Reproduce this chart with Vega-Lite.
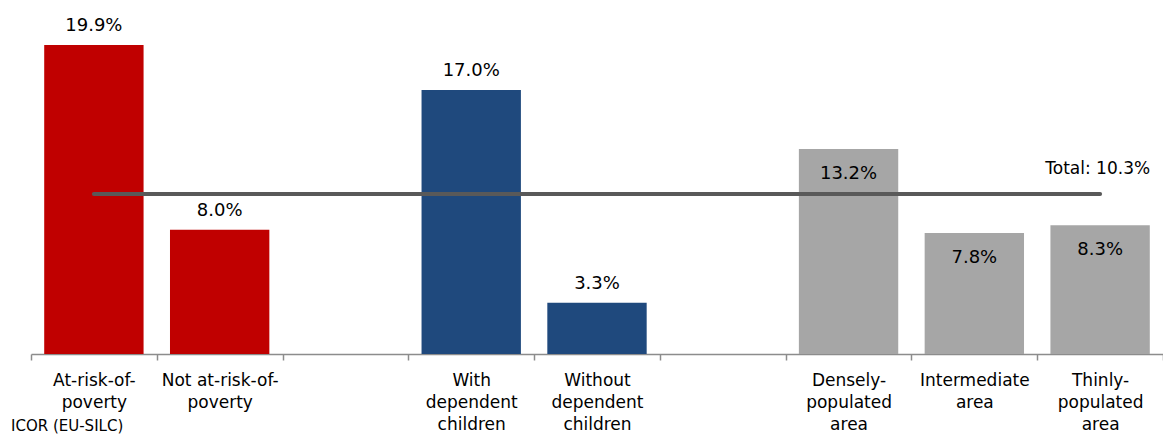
{
  "$schema": "https://vega.github.io/schema/vega-lite/v6.json",
  "autosize": "none",
  "width": 1132,
  "height": 354,
  "padding": {"left": 31, "top": 0, "right": 0, "bottom": 81},
  "background": "white",
  "config": {
    "view": {"stroke": null},
    "font": "DejaVu Sans",
    "text": {"font": "DejaVu Sans"}
  },
  "title": {
    "text": "ICOR (EU-SILC)",
    "orient": "bottom",
    "anchor": "start",
    "frame": "group",
    "font": "DejaVu Sans",
    "fontSize": 15,
    "fontWeight": "normal",
    "color": "#000000",
    "dx": -20,
    "offset": -13
  },
  "datasets": {
    "bars": [
      {"cat": "At-risk-of-poverty", "group": "poverty", "value": 19.9},
      {"cat": "Not at-risk-of-poverty", "group": "poverty", "value": 8.0},
      {"cat": "With dependent children", "group": "household", "value": 17.0},
      {"cat": "Without dependent children", "group": "household", "value": 3.3},
      {"cat": "Densely-populated area", "group": "urbanisation", "value": 13.2},
      {"cat": "Intermediate area", "group": "urbanisation", "value": 7.8},
      {"cat": "Thinly-populated area", "group": "urbanisation", "value": 8.3}
    ],
    "total": [
      {"cat": "At-risk-of-poverty", "value": 10.3, "label": ""},
      {"cat": "Thinly-populated area", "value": 10.3, "label": "Total: 10.3%"}
    ]
  },
  "encoding": {
    "x": {
      "field": "cat",
      "type": "nominal",
      "sort": null,
      "scale": {
        "domain": [
          "At-risk-of-poverty",
          "Not at-risk-of-poverty",
          "gap1",
          "With dependent children",
          "Without dependent children",
          "gap2",
          "Densely-populated area",
          "Intermediate area",
          "Thinly-populated area"
        ],
        "paddingInner": 0,
        "paddingOuter": 0
      },
      "axis": {
        "title": null,
        "labelAngle": 0,
        "tickBand": "extent",
        "domainColor": "#8c8c8c",
        "domainWidth": 1.5,
        "tickColor": "#8c8c8c",
        "tickWidth": 1.5,
        "tickSize": 6,
        "labelFont": "DejaVu Sans",
        "labelFontSize": 17,
        "labelColor": "#000000",
        "labelPadding": 12,
        "labelBaseline": "top",
        "labelLineHeight": 22,
        "labelExpr": "{'At-risk-of-poverty': ['At-risk-of-', 'poverty'], 'Not at-risk-of-poverty': ['Not at-risk-of-', 'poverty'], 'gap1': '', 'With dependent children': ['With', 'dependent', 'children'], 'Without dependent children': ['Without', 'dependent', 'children'], 'gap2': '', 'Densely-populated area': ['Densely-', 'populated', 'area'], 'Intermediate area': ['Intermediate', 'area'], 'Thinly-populated area': ['Thinly-', 'populated', 'area']}[datum.value]"
      }
    },
    "y": {
      "field": "value",
      "type": "quantitative",
      "scale": {"domain": [0, 22.8], "nice": false, "zero": true},
      "axis": null
    }
  },
  "layer": [
    {
      "data": {"name": "bars"},
      "mark": {"type": "bar", "width": {"band": 0.79}},
      "encoding": {
        "color": {
          "field": "group",
          "type": "nominal",
          "scale": {
            "domain": ["poverty", "household", "urbanisation"],
            "range": ["#c00000", "#1f497d", "#a6a6a6"]
          },
          "legend": null
        }
      }
    },
    {
      "data": {"name": "bars"},
      "transform": [
        {"filter": "datum.group !== 'urbanisation'"},
        {"calculate": "format(datum.value, '.1f') + '%'", "as": "valueLabel"}
      ],
      "mark": {"type": "text", "baseline": "alphabetic", "dy": -14, "fontSize": 18, "color": "#000000"},
      "encoding": {"text": {"field": "valueLabel", "type": "nominal"}}
    },
    {
      "data": {"name": "bars"},
      "transform": [
        {"filter": "datum.group === 'urbanisation'"},
        {"calculate": "format(datum.value, '.1f') + '%'", "as": "valueLabel"}
      ],
      "mark": {"type": "text", "baseline": "alphabetic", "dy": 30, "fontSize": 18, "color": "#000000"},
      "encoding": {"text": {"field": "valueLabel", "type": "nominal"}}
    },
    {
      "data": {"name": "total"},
      "mark": {"type": "line", "color": "#595959", "strokeWidth": 4, "strokeCap": "round"},
      "encoding": {}
    },
    {
      "data": {"name": "total"},
      "mark": {"type": "text", "align": "right", "baseline": "alphabetic", "dx": 50, "dy": -20, "fontSize": 17, "color": "#000000"},
      "encoding": {"text": {"field": "label", "type": "nominal"}}
    }
  ]
}
